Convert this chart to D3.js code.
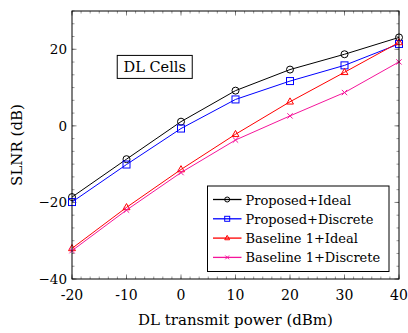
<!DOCTYPE html>
<html>
<head>
<meta charset="utf-8">
<script src="https://cdn.jsdelivr.net/npm/d3@7"></script>
<style>
  body { margin: 0; background: #fff; }
  text { font-family: "DejaVu Serif", "Liberation Serif", serif; fill: #000; }
</style>
</head>
<body>
<svg id="chart" width="408" height="333"></svg>
<script>
// data
const powers = [-20, -10, 0, 10, 20, 30, 40];
const xTickLabels = ['-20', '-10', '0', '10', '20', '30', '40'];
const yTicks = [-40, -20, 0, 20];
const proposedIdeal = [-18.6, -8.7, 1.1, 9.2, 14.7, 18.7, 23.1];
const proposedDiscrete = [-19.9, -10.1, -0.7, 6.9, 11.7, 15.8, 21.4];
const baselineIdeal = [-32.0, -21.3, -11.4, -2.2, 6.3, 14.0, 21.8];
const baselineDiscrete = [-32.6, -22.0, -12.2, -3.7, 2.6, 8.7, 16.7];
const seriesNames = ['Proposed+Ideal', 'Proposed+Discrete', 'Baseline 1+Ideal', 'Baseline 1+Discrete'];

const series = [
  { name: seriesNames[0], values: proposedIdeal, color: '#000000', marker: 'circle' },
  { name: seriesNames[1], values: proposedDiscrete, color: '#0000ff', marker: 'square' },
  { name: seriesNames[2], values: baselineIdeal, color: '#ff0000', marker: 'triangle' },
  { name: seriesNames[3], values: baselineDiscrete, color: '#f5159b', marker: 'cross' }
];

const margin = { top: 11, right: 9, bottom: 54, left: 72 };
const W = 408, H = 333;
const width = W - margin.left - margin.right;
const height = H - margin.top - margin.bottom;

const svg = d3.select('#chart');
const g = svg.append('g').attr('transform', 'translate(' + margin.left + ',' + margin.top + ')');

const x = d3.scaleLinear().domain([-20, 40]).range([0, width]);
const y = d3.scaleLinear().domain([-40, 30]).range([height, 0]);

// minor ticks: 5 between majors
const xMinor = d3.range(-20, 40.001, 10 / 6);
const yMinor = d3.range(-40, 30.001, 20 / 6);

const tickColor = '#555';
function ticks(vals, len, axisFn) {
  vals.forEach(v => axisFn(v, len));
}
ticks(xMinor, 2.5, (v, len) => {
  g.append('line').attr('x1', x(v)).attr('x2', x(v)).attr('y1', height).attr('y2', height - len).attr('stroke', tickColor).attr('stroke-width', 0.6);
  g.append('line').attr('x1', x(v)).attr('x2', x(v)).attr('y1', 0).attr('y2', len).attr('stroke', tickColor).attr('stroke-width', 0.6);
});
ticks(powers, 4.5, (v, len) => {
  g.append('line').attr('x1', x(v)).attr('x2', x(v)).attr('y1', height).attr('y2', height - len).attr('stroke', tickColor).attr('stroke-width', 0.7);
  g.append('line').attr('x1', x(v)).attr('x2', x(v)).attr('y1', 0).attr('y2', len).attr('stroke', tickColor).attr('stroke-width', 0.7);
});
ticks(yMinor, 2.5, (v, len) => {
  g.append('line').attr('y1', y(v)).attr('y2', y(v)).attr('x1', 0).attr('x2', len).attr('stroke', tickColor).attr('stroke-width', 0.6);
  g.append('line').attr('y1', y(v)).attr('y2', y(v)).attr('x1', width).attr('x2', width - len).attr('stroke', tickColor).attr('stroke-width', 0.6);
});
ticks(yTicks, 4.5, (v, len) => {
  g.append('line').attr('y1', y(v)).attr('y2', y(v)).attr('x1', 0).attr('x2', len).attr('stroke', tickColor).attr('stroke-width', 0.7);
  g.append('line').attr('y1', y(v)).attr('y2', y(v)).attr('x1', width).attr('x2', width - len).attr('stroke', tickColor).attr('stroke-width', 0.7);
});

// tick labels
g.selectAll('.xlab').data(powers).enter().append('text')
  .attr('x', d => x(d)).attr('y', height + 21)
  .attr('text-anchor', 'middle').style('font-size', '14px')
  .text((d, i) => xTickLabels[i]);
g.selectAll('.ylab').data(yTicks).enter().append('text')
  .attr('x', -5).attr('y', d => y(d) + 5)
  .attr('text-anchor', 'end').style('font-size', '13.5px')
  .text(d => d < 0 ? '\u2212' + Math.abs(d) : d);

// axis labels
svg.append('text').attr('x', margin.left + width / 2).attr('y', 325)
  .attr('text-anchor', 'middle').style('font-size', '15px').text('DL transmit power (dBm)');
svg.append('text').attr('transform', 'translate(22,' + (margin.top + height / 2) + ') rotate(-90)')
  .attr('text-anchor', 'middle').style('font-size', '15px').text('SLNR (dB)');

// lines and markers
function drawMarker(sel, type, color, size) {
  if (type === 'circle') {
    sel.append('circle').attr('r', size * 0.5).attr('fill', 'none').attr('stroke', color).attr('stroke-width', 1);
  } else if (type === 'square') {
    sel.append('rect').attr('x', -size / 2).attr('y', -size / 2).attr('width', size).attr('height', size)
      .attr('fill', 'none').attr('stroke', color).attr('stroke-width', 1);
  } else if (type === 'triangle') {
    const s = size * 0.55;
    sel.append('path').attr('d', 'M0,' + (-s) + 'L' + (s * 0.9) + ',' + (s * 0.6) + 'L' + (-s * 0.9) + ',' + (s * 0.6) + 'Z')
      .attr('fill', 'none').attr('stroke', color).attr('stroke-width', 1);
  } else {
    const s = size * 0.38;
    sel.append('path').attr('d', 'M' + (-s) + ',' + (-s) + 'L' + s + ',' + s + 'M' + (-s) + ',' + s + 'L' + s + ',' + (-s))
      .attr('fill', 'none').attr('stroke', color).attr('stroke-width', 1);
  }
}

const line = d3.line().x((d, i) => x(powers[i])).y(d => y(d));
series.forEach(s => {
  g.append('path').datum(s.values).attr('d', line)
    .attr('fill', 'none').attr('stroke', s.color).attr('stroke-width', 1);
  s.values.forEach((v, i) => {
    const m = g.append('g').attr('transform', 'translate(' + x(powers[i]) + ',' + y(v) + ')');
    drawMarker(m, s.marker, s.color, 7);
  });
});

// frame
g.append('rect').attr('width', width).attr('height', height)
  .attr('fill', 'none').attr('stroke', '#000').attr('stroke-width', 1);

// DL Cells box
const boxX = x(-11.7), boxY = y(18.4);
g.append('rect').attr('x', boxX).attr('y', boxY).attr('width', 75).attr('height', 23)
  .attr('fill', '#fff').attr('stroke', '#000').attr('stroke-width', 1);
g.append('text').attr('x', boxX + 37.5).attr('y', boxY + 16.5).attr('text-anchor', 'middle')
  .style('font-size', '14.5px').text('DL Cells');

// legend
const lx = 207.5 - margin.left, ly = 186 - margin.top;
const legend = g.append('g').attr('transform', 'translate(' + lx + ',' + ly + ')');
legend.append('rect').attr('width', 181.5).attr('height', 85.5)
  .attr('fill', '#fff').attr('stroke', '#000').attr('stroke-width', 1);
series.forEach((s, i) => {
  const row = legend.append('g').attr('transform', 'translate(0,' + (13.5 + i * 19.3) + ')');
  row.append('line').attr('x1', 5.5).attr('x2', 34).attr('stroke', s.color).attr('stroke-width', 1.3);
  const m = row.append('g').attr('transform', 'translate(19.7,0)');
  drawMarker(m, s.marker, s.color, 5);
  row.append('text').attr('x', 38).attr('y', 5).style('font-size', '13px').text(s.name);
});
</script>
</body>
</html>
